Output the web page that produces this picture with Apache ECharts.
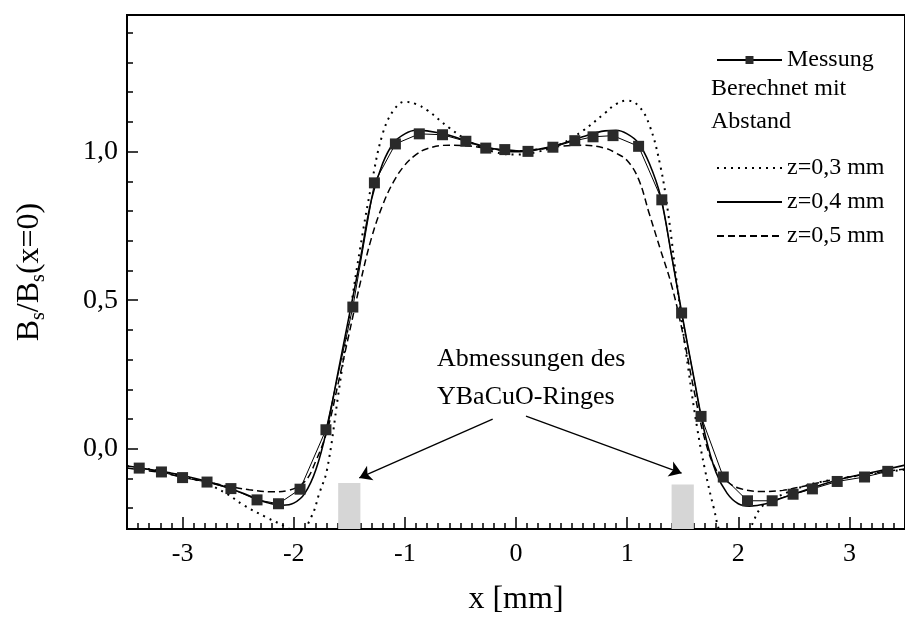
<!DOCTYPE html>
<html>
<head>
<meta charset="utf-8">
<script src="https://cdn.jsdelivr.net/npm/echarts@6/dist/echarts.min.js"></script>
<style>
  html, body { margin: 0; padding: 0; background: #fff; }
  #chart { width: 905px; height: 621px; }
</style>
</head>
<body>
<div id="chart"></div>
<script>
var chart = echarts.init(document.getElementById('chart'));

// Messung (squares)
var messung = [[-3.39,-0.065],[-3.19,-0.078],[-3.0,-0.097],[-2.78,-0.112],[-2.565,-0.134],[-2.33,-0.172],[-2.137,-0.185],[-1.943,-0.136],[-1.71,0.064],[-1.468,0.477],[-1.274,0.895],[-1.085,1.026],[-0.87,1.06],[-0.661,1.057],[-0.451,1.035],[-0.272,1.012],[-0.101,1.007],[0.108,1.001],[0.332,1.015],[0.529,1.037],[0.693,1.05],[0.873,1.054],[1.103,1.018],[1.312,0.838],[1.49,0.457],[1.665,0.109],[1.865,-0.095],[2.083,-0.175],[2.305,-0.175],[2.493,-0.153],[2.667,-0.135],[2.89,-0.11],[3.136,-0.095],[3.345,-0.076]];

// berechnet, z=0,3 mm (dotted)
var z03 = [[-3.5,-0.058],[-3.2,-0.075],[-3.0,-0.092],[-2.8,-0.115],[-2.6,-0.152],[-2.45,-0.19],[-2.25,-0.23],[-2.06,-0.265],[-1.96,-0.29],[-1.84,-0.228],[-1.77,-0.15],[-1.7,-0.07],[-1.6,0.18],[-1.5,0.44],[-1.4,0.68],[-1.3,0.89],[-1.2,1.06],[-1.1,1.14],[-1.0,1.168],[-0.9,1.16],[-0.8,1.14],[-0.6,1.08],[-0.4,1.03],[-0.2,1.0],[0,0.99],[0.2,1.0],[0.4,1.025],[0.6,1.07],[0.8,1.13],[0.9,1.16],[1.0,1.172],[1.1,1.155],[1.2,1.09],[1.3,0.95],[1.37,0.79],[1.45,0.55],[1.55,0.27],[1.63,0.07],[1.7,-0.07],[1.78,-0.2],[1.85,-0.29],[1.97,-0.33],[2.1,-0.27],[2.2,-0.2],[2.3,-0.172],[2.5,-0.138],[2.7,-0.115],[3.0,-0.095],[3.2,-0.085],[3.5,-0.07]];

// berechnet, z=0,4 mm (solid)
var z04 = [[-3.5,-0.058],[-3.2,-0.075],[-3.0,-0.09],[-2.8,-0.108],[-2.6,-0.13],[-2.4,-0.158],[-2.25,-0.18],[-2.1,-0.19],[-2.0,-0.183],[-1.9,-0.15],[-1.8,-0.07],[-1.7,0.07],[-1.6,0.26],[-1.5,0.45],[-1.4,0.64],[-1.3,0.84],[-1.2,0.96],[-1.1,1.03],[-1.0,1.06],[-0.9,1.072],[-0.8,1.07],[-0.6,1.055],[-0.4,1.03],[-0.2,1.01],[0,1.0],[0.2,1.008],[0.4,1.025],[0.6,1.05],[0.8,1.07],[0.9,1.072],[1.0,1.06],[1.1,1.03],[1.2,0.96],[1.3,0.85],[1.4,0.65],[1.5,0.44],[1.6,0.24],[1.7,0.05],[1.8,-0.08],[1.9,-0.15],[2.0,-0.185],[2.1,-0.193],[2.25,-0.185],[2.4,-0.165],[2.6,-0.14],[2.8,-0.115],[3.0,-0.095],[3.2,-0.08],[3.5,-0.055]];

// berechnet, z=0,5 mm (dashed)
var z05 = [[-3.5,-0.065],[-3.2,-0.08],[-3.0,-0.095],[-2.8,-0.11],[-2.6,-0.125],[-2.4,-0.138],[-2.2,-0.145],[-2.05,-0.14],[-1.9,-0.11],[-1.8,-0.04],[-1.7,0.06],[-1.6,0.22],[-1.5,0.39],[-1.4,0.56],[-1.3,0.71],[-1.2,0.82],[-1.1,0.9],[-1.0,0.955],[-0.9,0.99],[-0.8,1.01],[-0.6,1.022],[-0.4,1.018],[-0.2,1.008],[0,1.003],[0.2,1.008],[0.4,1.018],[0.6,1.022],[0.8,1.012],[0.9,0.995],[1.0,0.97],[1.1,0.91],[1.2,0.79],[1.3,0.67],[1.4,0.55],[1.5,0.39],[1.6,0.2],[1.7,0.03],[1.8,-0.07],[1.9,-0.11],[2.0,-0.132],[2.2,-0.144],[2.4,-0.14],[2.6,-0.125],[2.8,-0.108],[3.0,-0.095],[3.2,-0.082],[3.5,-0.068]];

// ring position (grey boxes) and arrows
var ringBoxes = [[-1.6, -0.27, -1.4, -0.115], [1.4, -0.27, 1.6, -0.12]];
var arrows = [[-0.21, 0.1, -1.41, -0.098], [0.09, 0.11, 1.49, -0.082]];

var xTicks = [-3, -2, -1, 0, 1, 2, 3];
var yMinorTicks = [-0.2, -0.1, 0, 0.1, 0.2, 0.3, 0.4, 0.5, 0.6, 0.7, 0.8, 0.9, 1.0, 1.1, 1.2, 1.3, 1.4];
var yTicks = [0, 0.5, 1.0];

var font = 'Liberation Serif';

option = {
    animation: false,
    textStyle: { fontFamily: font, color: '#000' },
    grid: {
        left: 127,
        top: 15,
        bottom: 92,
        right: -3,
        show: true,
        borderColor: '#000',
        borderWidth: 2
    },
    legend: [
        {
            data: ['Messung'],
            left: 711,
            top: 43,
            itemWidth: 65,
            itemHeight: 10,
            itemGap: 10,
            textStyle: { fontFamily: font, fontSize: 24, color: '#000' }
        },
        {
            data: ['z=0,3 mm', 'z=0,4 mm', 'z=0,5 mm'],
            orient: 'vertical',
            left: 711,
            top: 151,
            itemWidth: 65,
            itemHeight: 14,
            itemGap: 10,
            itemStyle: { opacity: 0 },
            textStyle: { fontFamily: font, fontSize: 24, lineHeight: 24, color: '#000' }
        }
    ],
    graphic: [
        { type: 'text', left: 711, top: 77, style: { text: 'Berechnet mit', font: '24px "Liberation Serif"', fill: '#000' } },
        { type: 'text', left: 711, top: 110, style: { text: 'Abstand', font: '24px "Liberation Serif"', fill: '#000' } },
        { type: 'text', left: 437, top: 340, style: { text: 'Abmessungen des\nYBaCuO-Ringes', font: '26px "Liberation Serif"', fill: '#000', align: 'center', lineHeight: 38, width: 200 } }
    ],
    xAxis: [
        {
            type: 'value',
            min: -3.5,
            max: 3.5,
            interval: 0.1,
            position: 'bottom',
            axisLine: { show: false, onZero: false },
            axisTick: { inside: true, length: 6, lineStyle: { color: '#000', width: 1.5 } },
            axisLabel: { show: false },
            splitLine: { show: false }
        },
        {
            type: 'value',
            min: -3.5,
            max: 3.5,
            position: 'bottom',
            axisLine: { show: false, onZero: false },
            axisTick: { inside: true, length: 12, customValues: xTicks, lineStyle: { color: '#000', width: 1.5 } },
            axisLabel: { customValues: xTicks, margin: 12, fontFamily: font, fontSize: 26, color: '#000' },
            splitLine: { show: false },
            name: 'x [mm]',
            nameLocation: 'middle',
            nameGap: 55,
            nameTextStyle: { fontFamily: font, fontSize: 32, color: '#000' }
        }
    ],
    yAxis: [
        {
            type: 'value',
            min: -0.27,
            max: 1.46,
            position: 'left',
            axisLine: { show: false, onZero: false },
            axisTick: { inside: true, length: 6, customValues: yMinorTicks, lineStyle: { color: '#000', width: 1.5 } },
            axisLabel: {
                customValues: yTicks,
                margin: 9,
                fontFamily: font,
                fontSize: 28,
                color: '#000',
                formatter: function (v) { return v.toFixed(1).replace('.', ','); }
            },
            splitLine: { show: false },
            name: '{b|B}{s|s}{b|/B}{s|s}{b|(x=0)}',
            nameLocation: 'middle',
            nameGap: 78,
            nameTextStyle: {
                rich: {
                    b: { fontFamily: font, fontSize: 32, lineHeight: 38, verticalAlign: 'middle', color: '#000' },
                    s: { fontFamily: font, fontSize: 20, lineHeight: 20, verticalAlign: 'bottom', color: '#000' }
                }
            }
        },
        {
            type: 'value',
            min: -0.27,
            max: 1.46,
            position: 'left',
            axisLine: { show: false, onZero: false },
            axisTick: { inside: true, length: 11, customValues: yTicks, lineStyle: { color: '#000', width: 1.5 } },
            axisLabel: { show: false },
            splitLine: { show: false }
        }
    ],
    series: [
        {
            name: 'z=0,3 mm',
            type: 'line',
            data: z03,
            smooth: 0.4,
            symbol: 'none',
            lineStyle: { color: '#000', width: 2, type: [2, 5] },
            itemStyle: { color: '#000' }
        },
        {
            name: 'z=0,5 mm',
            type: 'line',
            data: z05,
            smooth: 0.4,
            symbol: 'none',
            lineStyle: { color: '#000', width: 1.5, type: [7, 4] },
            itemStyle: { color: '#000' }
        },
        {
            name: 'z=0,4 mm',
            type: 'line',
            data: z04,
            smooth: 0.4,
            symbol: 'none',
            lineStyle: { color: '#000', width: 1.6 },
            itemStyle: { color: '#000' },
            markArea: {
                silent: true,
                itemStyle: { color: '#d6d6d6' },
                data: ringBoxes.map(function (b) {
                    return [{ coord: [b[0], b[1]] }, { coord: [b[2], b[3]] }];
                })
            },
            markLine: {
                silent: true,
                symbol: ['none', 'arrow'],
                symbolSize: 12,
                label: { show: false },
                lineStyle: { color: '#000', width: 1.3, type: 'solid' },
                data: arrows.map(function (a) {
                    return [{ coord: [a[0], a[1]] }, { coord: [a[2], a[3]] }];
                })
            }
        },
        {
            name: 'Messung',
            type: 'line',
            data: messung,
            symbol: 'rect',
            symbolSize: 11,
            lineStyle: { color: '#000', width: 1 },
            itemStyle: { color: '#2a2a2a' }
        }
    ]
};

chart.setOption(option);
</script>
</body>
</html>
